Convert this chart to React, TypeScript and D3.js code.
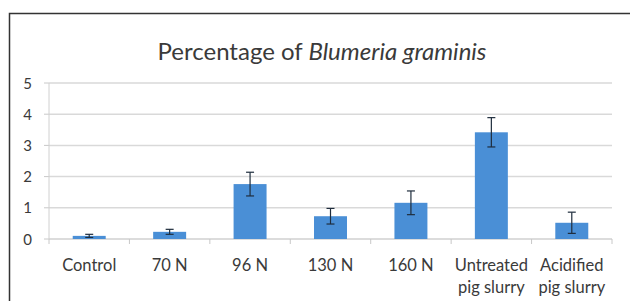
import React from "react";
import * as d3 from "d3";

const categories: string[][] = [
  ["Control"],
  ["70 N"],
  ["96 N"],
  ["130 N"],
  ["160 N"],
  ["Untreated", "pig slurry"],
  ["Acidified", "pig slurry"],
];
const values: number[] = [0.1, 0.23, 1.76, 0.73, 1.16, 3.42, 0.52];
const errors: number[] = [0.05, 0.08, 0.38, 0.25, 0.38, 0.47, 0.34];
const yTicks: number[] = [0, 1, 2, 3, 4, 5];

export default function App() {
  const W = 630;
  const H = 301;
  const left = 49;
  const right = 612;
  const top = 83;
  const bottom = 239;
  const font = "Lato, 'Open Sans', sans-serif";

  const x = d3
    .scaleBand<number>()
    .domain(d3.range(categories.length))
    .range([left, right])
    .paddingInner(0.59)
    .paddingOuter(0.295);
  const step = (right - left) / categories.length;
  const y = d3.scaleLinear().domain([0, 5]).range([bottom, top]);
  const capW = 4;

  return (
    <svg
      width={W}
      height={H}
      style={{ position: "absolute", left: 0, top: 0, display: "block" }}
    >
      <rect x={0} y={0} width={W} height={H} fill="#ffffff" />
      <rect
        x={9.5}
        y={13.5}
        width={W + 10}
        height={H + 10}
        fill="#ffffff"
        stroke="#333333"
        strokeWidth={1.5}
      />
      <text
        x={322}
        y={60}
        textAnchor="middle"
        fontFamily={font}
        fontSize={24}
        fill="#3a3a3a"
      >
        Percentage of <tspan fontStyle="italic">Blumeria graminis</tspan>
      </text>
      {yTicks.map((t) => (
        <g key={t}>
          {t > 0 && (
            <line
              x1={left}
              x2={right}
              y1={y(t)}
              y2={y(t)}
              stroke="#d9d9d9"
              strokeWidth={1.5}
            />
          )}
          <line x1={left - 5} x2={left} y1={y(t)} y2={y(t)} stroke="#c8c8c8" />
          <text
            x={32}
            y={y(t) + 5.5}
            textAnchor="end"
            fontFamily={font}
            fontSize={15}
            fill="#3a3a3a"
          >
            {t}
          </text>
        </g>
      ))}
      <line x1={left} x2={left} y1={top} y2={bottom} stroke="#d0d0d0" />
      <line x1={left} x2={right} y1={bottom} y2={bottom} stroke="#d0d0d0" strokeWidth={1.5} />
      {d3.range(categories.length + 1).map((i) => (
        <line
          key={"tk" + i}
          x1={left + i * step}
          x2={left + i * step}
          y1={bottom}
          y2={bottom + 5}
          stroke="#c8c8c8"
        />
      ))}
      {values.map((v, i) => {
        const bx = x(i) as number;
        const cx = bx + x.bandwidth() / 2;
        const hi = y(v + errors[i]);
        const lo = y(Math.max(0, v - errors[i]));
        return (
          <g key={"b" + i}>
            <rect
              x={bx}
              y={y(v)}
              width={x.bandwidth()}
              height={bottom - y(v)}
              fill="#4a8fd6"
            />
            <line x1={cx} x2={cx} y1={hi} y2={lo} stroke="#1f2d3d" strokeWidth={1.2} />
            <line x1={cx - capW} x2={cx + capW} y1={hi} y2={hi} stroke="#1f2d3d" strokeWidth={1.2} />
            <line x1={cx - capW} x2={cx + capW} y1={lo} y2={lo} stroke="#1f2d3d" strokeWidth={1.2} />
          </g>
        );
      })}
      {categories.map((lines, i) => {
        const cx = (x(i) as number) + x.bandwidth() / 2;
        return (
          <text
            key={"l" + i}
            x={cx}
            y={271}
            textAnchor="middle"
            fontFamily={font}
            fontSize={16.5}
            fill="#3a3a3a"
          >
            {lines.map((ln, j) => (
              <tspan key={j} x={cx} dy={j === 0 ? 0 : 22}>
                {ln}
              </tspan>
            ))}
          </text>
        );
      })}
    </svg>
  );
}
